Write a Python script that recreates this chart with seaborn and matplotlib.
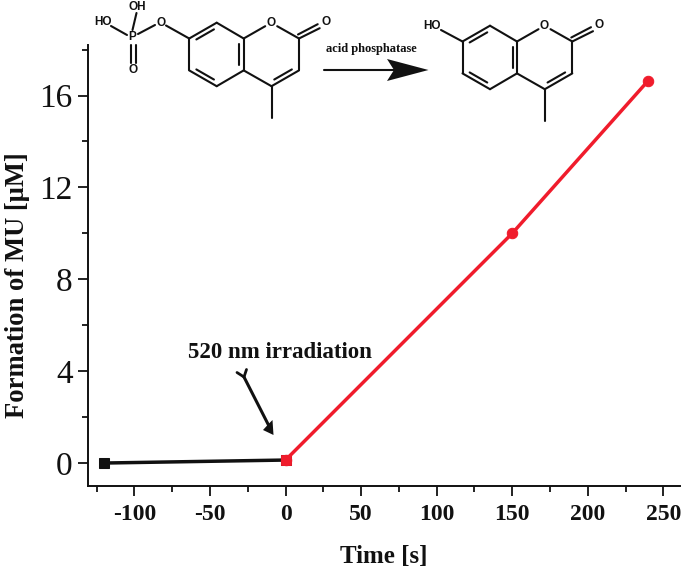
"""Formation of MU over time, with the reaction scheme drawn above the curve."""

import matplotlib
matplotlib.use("Agg")
import matplotlib.pyplot as plt
import pandas as pd
import seaborn as sns

time_dark = [-120, 0]
mu_dark = [0.0, 0.13]
time_light = [0, 150, 240]
mu_light = [0.13, 10.0, 16.65]
x_ticks = [-100, -50, 0, 50, 100, 150, 200, 250]
y_ticks = [0, 4, 8, 12, 16]

INK = "#111111"
RED = "#f01c2c"

sns.set_theme(style="ticks")
plt.rcParams["font.family"] = ["Liberation Serif", "DejaVu Serif"]

W, H = 684, 571
fig = plt.figure(figsize=(W / 100, H / 100), dpi=100)
ax = fig.add_axes([88 / W, (H - 486) / H, (680 - 88) / W, (486 - 45) / H])

dark = pd.DataFrame({"time": time_dark, "mu": mu_dark})
light = pd.DataFrame({"time": time_light, "mu": mu_light})
sns.lineplot(data=dark, x="time", y="mu", color=INK, lw=2.5, marker="s", ms=7,
             mec=INK, ax=ax)
sns.lineplot(data=light, x="time", y="mu", color=RED, lw=2.5, marker="o", ms=7.5,
             mec=RED, ax=ax)
# red square on top of the shared point at t = 0
sns.scatterplot(x=time_light[:1], y=mu_light[:1], color=RED, marker="s", s=60,
                ec=RED, zorder=5, ax=ax)

ax.set_xlim(-130.7, 261)
ax.set_ylim(-1, 18.2)
ax.set_xticks(x_ticks, [str(t) for t in x_ticks], fontsize=17, fontweight="bold",
              color=INK)
ax.set_yticks(y_ticks, [str(t) for t in y_ticks], fontsize=24, color=INK)
ax.set_xticks([-125, -75, -25, 25, 75, 125, 175, 225], minor=True)
ax.set_yticks([2, 6, 10, 14, 18], minor=True)
ax.tick_params(which="major", length=7, width=1.3, color=INK)
ax.tick_params(axis="y", which="major", pad=4)
ax.tick_params(axis="x", which="major", pad=6)
ax.tick_params(which="minor", length=4.5, width=1.3, color=INK)
ax.set_xlabel("Time [s]", fontsize=18, fontweight="bold", color=INK, labelpad=14)
ax.set_ylabel("Formation of MU [μM]", fontsize=19.2, fontweight="bold", color=INK)
ax.yaxis.set_label_coords(-0.0985, 0.456)
sns.despine(ax=ax)
for side in ["left", "bottom"]:
    ax.spines[side].set_linewidth(1.4)
    ax.spines[side].set_color(INK)

# overlay in image pixels for the scheme and the annotation
ov = fig.add_axes([0, 0, 1, 1])
ov.set_xlim(0, W)
ov.set_ylim(H, 0)
ov.axis("off")
ov.patch.set_alpha(0)


def bond(a, b, lw=1.5):
    ov.plot([a[0], b[0]], [a[1], b[1]], color=INK, lw=lw, solid_capstyle="round")


def inner(a, b, cx, cy, f=0.16):
    # shorter second line of a double bond, pulled towards the ring centre
    p = [a[0] + (cx - a[0]) * f + (b[0] - a[0]) * 0.1, a[1] + (cy - a[1]) * f + (b[1] - a[1]) * 0.1]
    q = [b[0] + (cx - b[0]) * f - (b[0] - a[0]) * 0.1, b[1] + (cy - b[1]) * f - (b[1] - a[1]) * 0.1]
    bond(p, q)


def atom(x, y, s):
    ov.text(x, y, s, family="Liberation Sans", fontweight="bold", fontsize=8.5, color=INK,
            ha="center", va="center")


def coumarin(x0, y0):
    # x0, y0 is the top atom of the benzene ring
    pts = dict(c7=(-27.5, 15.8), c8=(0, 0), c8a=(27, 15.8), c4a=(27, 47.7), c5=(0, 63.5),
               c6=(-27.5, 47.7), o1=(54.5, 0), c2=(82.3, 15.8), c3=(82.3, 47.7), c4=(54.8, 63.5),
               me=(54.8, 95), ox=(109, -0.5))
    p = {k: (x0 + v[0], y0 + v[1]) for k, v in pts.items()}
    for a, b in [("c7", "c8"), ("c8", "c8a"), ("c8a", "c4a"), ("c4a", "c5"), ("c5", "c6"),
                 ("c6", "c7"), ("c2", "c3"), ("c3", "c4"), ("c4", "c4a"), ("c4", "me")]:
        bond(p[a], p[b])
    bx, by = x0, y0 + 31.7
    rx, ry = x0 + 54.8, y0 + 31.7
    inner(p["c7"], p["c8"], bx, by)
    inner(p["c8a"], p["c4a"], bx, by)
    inner(p["c5"], p["c6"], bx, by)
    inner(p["c3"], p["c4"], rx, ry)
    bond(p["c8a"], (p["o1"][0] - 6, p["o1"][1] + 3.5))
    bond((p["o1"][0] + 6, p["o1"][1] + 3.5), p["c2"])
    bond(p["c2"], (p["ox"][0] - 6, p["ox"][1] + 6))
    bond((p["c2"][0] - 1, p["c2"][1] - 4), (p["ox"][0] - 8, p["ox"][1] + 2))
    atom(p["o1"][0], p["o1"][1], "O")
    atom(p["ox"][0], p["ox"][1], "O")
    return p


def barbed(tip, back_a, notch, back_b):
    ov.fill([tip[0], back_a[0], notch[0], back_b[0]], [tip[1], back_a[1], notch[1], back_b[1]],
            color=INK, lw=0)


left = coumarin(216.7, 22.7)
right = coumarin(490, 25.7)

# phosphate group
bond((132.5, 30), (136.5, 13))
bond((111, 26), (127, 35))
bond((138, 34), (155, 25))
bond((166, 25.5), left["c7"])
bond((131, 45), (131, 63))
bond((136, 45), (136, 63))
atom(137.7, 6.7, "OH")
atom(102.7, 22.3, "HO")
atom(160.7, 22.7, "O")
atom(132.5, 37.3, "P")
atom(133.3, 70, "O")

# product hydroxyl
bond((441, 30), right["c7"])
atom(431.7, 25.7, "HO")

ov.text(371, 49, "acid phosphatase", fontsize=9, fontweight="bold", color=INK,
        ha="center", va="center")
bond((324, 70), (395, 70), lw=1.5)
barbed((428.5, 70), (387, 59), (394, 70), (387, 81))

ov.text(280, 352, "520 nm irradiation", fontsize=16.5, fontweight="bold", color=INK,
        ha="center", va="center")
bond((244, 377), (270, 428), lw=2.2)
barbed((273.5, 435), (263, 430), (268.5, 424), (272.5, 420))
bond((237, 372.5), (244, 377), lw=2)
bond((246.5, 369.5), (244, 377), lw=2)

fig.savefig("out.png", dpi=100)
